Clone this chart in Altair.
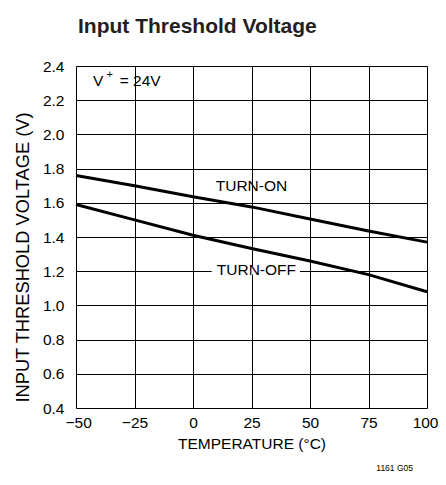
import altair as alt
import pandas as pd

# ---- data ----
temps = [-50, -25, 0, 25, 50, 75, 100]
turn_on = [1.76, 1.70, 1.635, 1.576, 1.505, 1.435, 1.37]
turn_off = [1.59, 1.50, 1.41, 1.333, 1.26, 1.18, 1.08]

x_ticks = [-50, -25, 0, 25, 50, 75, 100]
y_ticks = [0.4, 0.6, 0.8, 1.0, 1.2, 1.4, 1.6, 1.8, 2.0, 2.2, 2.4]

labels = ["TURN-ON", "TURN-OFF"]
label_x = [25.0, 27.1]
label_y = [1.70, 1.205]

FONT = "Liberation Sans"

df = pd.DataFrame(
    {
        "temp": temps * 2,
        "v": turn_on + turn_off,
        "series": ["on"] * len(temps) + ["off"] * len(temps),
    }
)
lab_df = pd.DataFrame({"label": labels, "x": label_x, "y": label_y})

xs = alt.Scale(domain=[-50, 100], nice=False, zero=False)
ys = alt.Scale(domain=[0.4, 2.4], nice=False, zero=False)

xaxis = alt.Axis(
    values=x_ticks, tickCount=len(x_ticks), format="d", ticks=False, domain=False, grid=True,
    gridColor="black", gridOpacity=1, gridWidth=1,
    labelFont=FONT, labelFontSize=15.5, labelColor="black", labelPadding=7,
    labelOverlap=False, labelFlush=True, labelFlushOffset=11,
    title="TEMPERATURE (°C)", titleFont=FONT, titleFontSize=15.5,
    titleFontWeight="normal", titleColor="black", titlePadding=6,
)
yaxis = alt.Axis(
    values=y_ticks, tickCount=len(y_ticks), format=".1f", ticks=False, domain=False, grid=True,
    gridColor="black", gridOpacity=1, gridWidth=1,
    labelFont=FONT, labelFontSize=15.5, labelColor="black", labelPadding=12,
    labelOverlap=False, labelFlush=False,
    title="INPUT THRESHOLD VOLTAGE (V)", titleFont=FONT, titleFontSize=18.3,
    titleFontWeight="normal", titleColor="black", titlePadding=10, titleY=191,
)

lines = (
    alt.Chart(df)
    .mark_line(color="black", strokeWidth=3)
    .encode(
        x=alt.X("temp:Q", scale=xs, axis=xaxis),
        y=alt.Y("v:Q", scale=ys, axis=yaxis),
        detail="series:N",
    )
)

# white patch breaking the 1.2 gridline behind the TURN-OFF label
gap = pd.DataFrame({"x1": [8.0], "x2": [45.7], "y1": [1.18], "y2": [1.23]})
patch = (
    alt.Chart(gap)
    .mark_rect(color="white")
    .encode(x=alt.X("x1:Q", scale=xs), x2="x2:Q", y=alt.Y("y1:Q", scale=ys), y2="y2:Q")
)

texts = (
    alt.Chart(lab_df)
    .mark_text(font=FONT, fontSize=15.5, color="black", align="center", baseline="middle")
    .encode(x=alt.X("x:Q", scale=xs), y=alt.Y("y:Q", scale=ys), text="label:N")
)

vdf = pd.DataFrame(
    {"t": ["V", "+", "= 24V"], "x": [-42.7, -37.0, -31.3], "y": [2.315, 2.345, 2.315], "s": [15.5, 11, 15.5]}
)
vlab = (
    alt.Chart(vdf)
    .mark_text(font=FONT, color="black", align="left", baseline="middle")
    .encode(
        x=alt.X("x:Q", scale=xs),
        y=alt.Y("y:Q", scale=ys),
        text="t:N",
        size=alt.Size("s:Q", scale=None, legend=None),
    )
)

code = (
    alt.Chart(pd.DataFrame({"c": ["1161 G05"]}))
    .mark_text(font=FONT, fontSize=8.5, color="black", align="right", baseline="middle")
    .encode(x=alt.value(337), y=alt.value(402), text="c:N")
)

chart = (
    alt.layer(patch, lines, texts, vlab, code)
    .properties(
        width=351,
        height=342,
        autosize=alt.AutoSizeParams(type="none"),
        padding={"left": 68, "top": 58, "right": 11, "bottom": 69},
        title=alt.TitleParams(
            "Input Threshold Voltage", font=FONT, fontSize=21, fontWeight="bold",
            color="#231f20", anchor="start", frame="group", dx=2, offset=5,
            baseline="alphabetic",
        ),
    )
    .configure_view(stroke="black", strokeWidth=2)
    .configure(background="white")
)

chart.save("out.html", embed_options={"renderer": "svg", "actions": False})
